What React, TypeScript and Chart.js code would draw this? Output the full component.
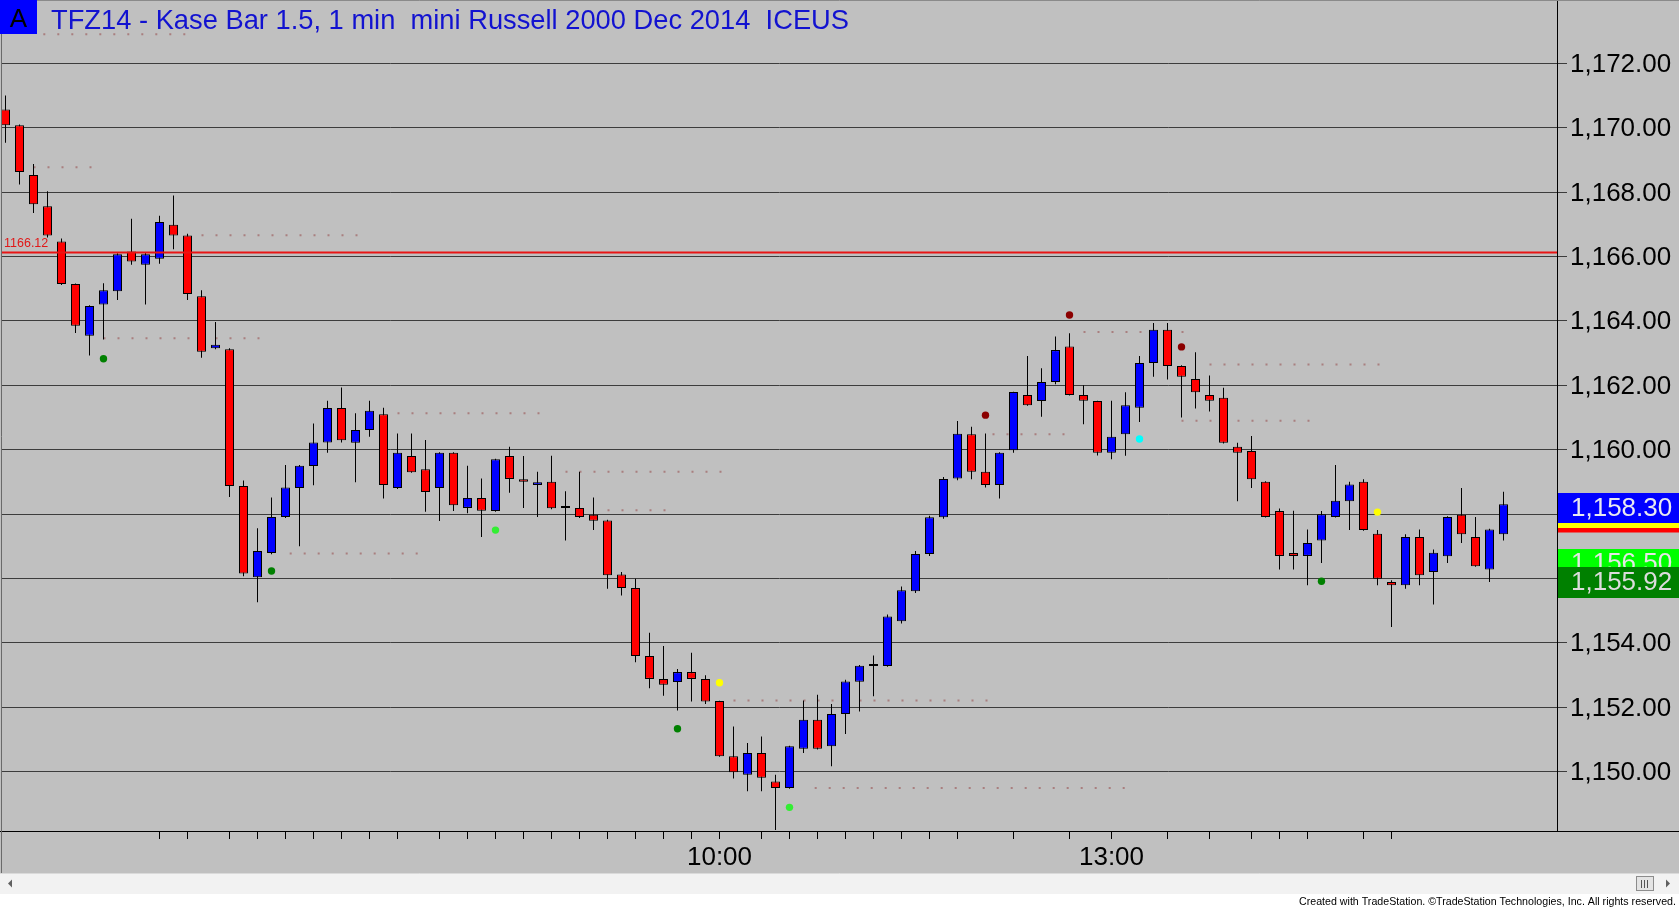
import React, { useEffect, useRef } from 'react';
import { Chart, registerables } from 'chart.js';

Chart.register(...registerables);

// ---- Data ----
const opens = [
  1170.56, 1170.07, 1168.53, 1167.56, 1166.46, 1165.14, 1163.54, 1164.51, 1164.92, 1166.15,
  1165.74, 1165.93, 1166.98, 1166.65, 1164.76, 1163.15, 1163.12, 1158.87, 1156.04, 1156.79,
  1157.91, 1158.81, 1159.49, 1160.22, 1161.29, 1160.21, 1160.61, 1161.10, 1158.81, 1159.80,
  1159.39, 1158.81, 1159.90, 1158.19, 1158.50, 1158.09, 1159.80, 1159.08, 1158.90, 1159.00,
  1158.19, 1158.19, 1157.98, 1157.80, 1156.12, 1155.70, 1153.59, 1152.88, 1152.78, 1153.09,
  1152.88, 1152.19, 1150.48, 1149.90, 1150.58, 1149.69, 1149.49, 1150.71, 1151.61, 1150.79,
  1151.79, 1152.79, 1153.28, 1153.28, 1154.67, 1155.60, 1156.76, 1157.90, 1159.10, 1160.48,
  1159.31, 1158.90, 1159.98, 1161.70, 1161.51, 1162.10, 1163.20, 1161.70, 1161.51, 1159.90,
  1160.48, 1161.30, 1162.69, 1163.72, 1162.60, 1162.19, 1161.70, 1161.61, 1160.09, 1159.96,
  1159.00, 1158.09, 1156.79, 1156.70, 1157.18, 1157.91, 1158.40, 1159.00, 1157.39, 1155.89,
  1155.79, 1157.29, 1156.20, 1156.69, 1157.98, 1157.29, 1156.28, 1157.37,
];
const highs = [
  1171.00, 1170.10, 1168.87, 1168.02, 1166.56, 1165.16, 1164.48, 1165.17, 1166.10, 1167.17,
  1166.12, 1167.26, 1167.89, 1166.70, 1164.95, 1163.96, 1163.15, 1159.04, 1157.56, 1158.51,
  1159.52, 1159.52, 1160.81, 1161.52, 1161.93, 1161.13, 1161.52, 1161.30, 1160.50, 1160.50,
  1160.30, 1159.92, 1159.92, 1159.50, 1159.10, 1159.72, 1160.09, 1159.80, 1159.31, 1159.81,
  1158.71, 1159.31, 1158.51, 1157.82, 1156.20, 1155.99, 1154.31, 1153.90, 1153.19, 1153.69,
  1152.99, 1152.20, 1151.40, 1150.89, 1151.09, 1149.90, 1150.80, 1152.21, 1152.39, 1152.10,
  1152.85, 1153.31, 1153.61, 1154.88, 1155.75, 1156.85, 1157.95, 1159.15, 1160.89, 1160.71,
  1160.50, 1159.92, 1161.80, 1162.91, 1162.53, 1163.51, 1163.61, 1162.00, 1161.52, 1161.52,
  1161.78, 1162.91, 1163.93, 1163.93, 1162.62, 1163.02, 1162.30, 1161.92, 1160.21, 1160.42,
  1159.02, 1158.17, 1158.10, 1157.52, 1158.09, 1159.52, 1159.00, 1159.08, 1157.50, 1155.94,
  1157.37, 1157.52, 1156.90, 1157.93, 1158.81, 1157.91, 1157.54, 1158.69,
];
const lows = [
  1169.53, 1168.23, 1167.35, 1166.59, 1165.11, 1163.62, 1162.92, 1163.42, 1164.65, 1165.74,
  1164.51, 1165.77, 1166.22, 1164.65, 1162.85, 1163.12, 1158.53, 1156.07, 1155.26, 1156.75,
  1157.88, 1157.00, 1158.89, 1159.90, 1160.22, 1158.99, 1160.40, 1158.48, 1158.78, 1159.28,
  1158.07, 1157.78, 1158.09, 1158.02, 1157.29, 1158.07, 1158.66, 1158.19, 1157.91, 1158.15,
  1157.18, 1157.88, 1157.50, 1155.68, 1155.47, 1153.40, 1152.59, 1152.36, 1151.90, 1152.18,
  1152.10, 1150.46, 1149.79, 1149.39, 1149.39, 1148.19, 1149.47, 1150.58, 1150.69, 1150.17,
  1151.17, 1151.87, 1152.34, 1153.26, 1154.60, 1155.55, 1156.70, 1157.85, 1159.05, 1159.08,
  1158.82, 1158.48, 1159.90, 1161.36, 1161.02, 1162.03, 1161.68, 1160.79, 1159.82, 1159.70,
  1159.81, 1160.86, 1162.26, 1162.18, 1161.00, 1161.28, 1161.18, 1160.19, 1158.40, 1158.81,
  1157.89, 1156.28, 1156.28, 1155.79, 1156.48, 1157.89, 1157.50, 1157.48, 1155.79, 1154.49,
  1155.68, 1155.79, 1155.19, 1156.48, 1157.10, 1156.36, 1155.89, 1157.18,
];
const closes = [
  1170.07, 1168.62, 1167.62, 1166.65, 1165.14, 1163.85, 1164.46, 1164.95, 1166.07, 1165.84,
  1166.07, 1167.07, 1166.65, 1164.83, 1163.04, 1163.26, 1158.87, 1156.15, 1156.85, 1157.91,
  1158.82, 1159.50, 1160.22, 1161.29, 1160.29, 1160.61, 1161.21, 1158.90, 1159.90, 1159.30,
  1158.68, 1159.90, 1158.27, 1158.50, 1158.10, 1159.70, 1159.09, 1159.00, 1158.99, 1158.18,
  1158.19, 1157.91, 1157.79, 1156.10, 1155.70, 1153.59, 1152.88, 1152.70, 1153.09, 1152.88,
  1152.18, 1150.48, 1149.98, 1150.58, 1149.81, 1149.49, 1150.79, 1151.61, 1150.71, 1151.79,
  1152.80, 1153.29, 1153.28, 1154.82, 1155.63, 1156.76, 1157.90, 1159.09, 1160.49, 1159.31,
  1158.90, 1159.90, 1161.79, 1161.38, 1162.10, 1163.09, 1161.70, 1161.52, 1159.90, 1160.40,
  1161.38, 1162.69, 1163.72, 1162.60, 1162.26, 1161.78, 1161.52, 1160.21, 1159.90, 1159.08,
  1157.91, 1156.70, 1156.70, 1157.10, 1157.99, 1158.41, 1158.92, 1157.50, 1155.99, 1155.79,
  1157.29, 1156.10, 1156.80, 1157.91, 1157.37, 1156.38, 1157.52, 1158.30,
];

const yTickValues = [1150, 1152, 1154, 1156, 1158, 1160, 1162, 1164, 1166, 1168, 1170, 1172];
const xTickIdx = [11, 13, 16, 18, 20, 22, 24, 26, 28, 31, 33, 35, 37, 39, 41, 43, 45, 47, 49, 51,
  54, 56, 58, 60, 62, 64, 66, 68, 72, 76, 79, 83, 86, 89, 91, 93, 97, 99];
const timeLabelIdx = [51, 79];
const timeLabelText = ['10:00', '13:00'];

const signalIdx = [7, 19, 35, 48, 51, 56, 70, 76, 81, 84, 94, 98];
const signalPrice = [1162.82, 1156.23, 1157.50, 1151.33, 1152.76, 1148.89, 1161.07, 1164.18, 1160.33, 1163.19, 1155.91, 1158.06];
const signalColor = ['#008000', '#008000', '#33ee33', '#008000', '#ffff00', '#33ee33', '#8b0000', '#8b0000', '#00ffff', '#8b0000', '#008000', '#ffff00'];

const dotStart = [2.7, 2, 14, 7, 28, 40, 20.3, 43, 52, 57.8, 70.5, 77, 86, 84];
const dotEnd = [13.4, 6.2, 25.3, 18.2, 38.3, 51.4, 30.3, 47.2, 70.3, 80.2, 76.2, 84.2, 98.3, 93.5];
const dotPrice = [1172.90, 1168.77, 1166.66, 1163.46, 1161.13, 1159.31, 1156.77, 1158.12, 1152.21, 1149.49, 1160.48, 1163.65, 1162.64, 1160.90];

const stopLevel = 1166.12;
const tagValues = [1156.50, 1155.92, 1158.30];
const tagFill = ['#00ff00', '#008000', '#0000ff'];
const tagText = ['#e6e6e6', '#dcdcdc', '#e8e8f0'];

const titleText = 'TFZ14 - Kase Bar 1.5, 1 min  mini Russell 2000 Dec 2014  ICEUS';
const footerText = 'Created with TradeStation. \u00A9TradeStation Technologies, Inc. All rights reserved.';

const X_MIN = -0.25;
const X_MAX = 110.8214;
const Y_MAX = 1173.963;
const Y_MIN = 1148.156;

const FONT = '"Liberation Sans", Arial, sans-serif';

const fmt = (v: number) => v.toLocaleString('en-US', { minimumFractionDigits: 2, maximumFractionDigits: 2 });

const decorPlugin = {
  id: 'decor',
  beforeDraw(chart: any) {
    const { ctx, width, height } = chart;
    ctx.save();
    ctx.fillStyle = '#c0c0c0';
    ctx.fillRect(0, 0, width, height);
    ctx.restore();
  },
  afterDraw(chart: any) {
    const { ctx, width } = chart;
    const area = chart.chartArea;
    const ys = chart.scales.y;
    ctx.save();

    // frame lines
    ctx.lineWidth = 1;
    ctx.strokeStyle = '#000';
    ctx.beginPath();
    ctx.moveTo(0, Math.round(area.bottom) + 0.5);
    ctx.lineTo(width, Math.round(area.bottom) + 0.5);
    ctx.stroke();
    ctx.strokeStyle = '#6a6a6a';
    ctx.beginPath();
    ctx.moveTo(1.5, 0);
    ctx.lineTo(1.5, 873);
    ctx.stroke();
    ctx.strokeStyle = '#8a8a8a';
    ctx.beginPath();
    ctx.moveTo(0, 0.5);
    ctx.lineTo(width, 0.5);
    ctx.stroke();

    // "A" box and title
    ctx.fillStyle = '#0000ff';
    ctx.fillRect(0, 0, 37, 34);
    ctx.fillStyle = '#000';
    ctx.font = `26px ${FONT}`;
    ctx.textAlign = 'center';
    ctx.textBaseline = 'alphabetic';
    ctx.fillText('A', 18.5, 27);
    ctx.fillStyle = '#1212d0';
    ctx.font = `27.3px ${FONT}`;
    ctx.textAlign = 'left';
    ctx.fillText(titleText, 51, 29);

    // stop level label
    const sy = ys.getPixelForValue(stopLevel);
    ctx.fillStyle = '#e01818';
    ctx.font = `12.5px ${FONT}`;
    ctx.fillText(String(stopLevel.toFixed(2)), 4, sy - 6);

    // right axis price tags
    ctx.font = `26px ${FONT}`;
    ctx.textBaseline = 'middle';
    for (let i = 0; i < tagValues.length; i++) {
      const py = ys.getPixelForValue(tagValues[i]);
      const last = i === tagValues.length - 1;
      const top = Math.round(last ? py - 11.5 : py - 13.5);
      const h = last ? 30 : 31;
      if (last) {
        ctx.fillStyle = '#ffff00';
        ctx.fillRect(1558, top + h, width - 1558, 5);
        ctx.fillStyle = '#ff0000';
        ctx.fillRect(1558, top + h + 5, width - 1558, 4.5);
      }
      ctx.fillStyle = tagFill[i];
      ctx.fillRect(1558, top, width - 1558, h);
      ctx.fillStyle = tagText[i];
      ctx.fillText(fmt(tagValues[i]), 1571, last ? py + 4 : py + 1.5);
    }

    // scrollbar
    ctx.fillStyle = '#f2f2f2';
    ctx.fillRect(0, 873, width, 21);
    ctx.strokeStyle = '#dadada';
    ctx.beginPath();
    ctx.moveTo(0, 873.5);
    ctx.lineTo(width, 873.5);
    ctx.stroke();
    ctx.fillStyle = '#606060';
    ctx.beginPath();
    ctx.moveTo(8, 883.5);
    ctx.lineTo(12, 879.5);
    ctx.lineTo(12, 887.5);
    ctx.closePath();
    ctx.fill();
    ctx.beginPath();
    ctx.moveTo(1670, 883.5);
    ctx.lineTo(1666, 879.5);
    ctx.lineTo(1666, 887.5);
    ctx.closePath();
    ctx.fill();
    ctx.fillStyle = '#e4e4e4';
    ctx.fillRect(1636, 876, 18, 15);
    ctx.strokeStyle = '#8c8c8c';
    ctx.strokeRect(1636.5, 876.5, 17, 14);
    ctx.strokeStyle = '#555';
    for (const gx of [1641.5, 1644.5, 1647.5]) {
      ctx.beginPath();
      ctx.moveTo(gx, 880);
      ctx.lineTo(gx, 888);
      ctx.stroke();
    }

    // footer
    ctx.fillStyle = '#ffffff';
    ctx.fillRect(0, 894, width, 15);
    ctx.fillStyle = '#000';
    ctx.font = `11px ${FONT}`;
    const tw = ctx.measureText(footerText).width;
    const sx = 377 / tw;
    ctx.translate(1676, 902);
    ctx.scale(sx, 1);
    ctx.textAlign = 'right';
    ctx.textBaseline = 'middle';
    ctx.fillText(footerText, 0, 0);

    ctx.restore();
  },
};

export default function App() {
  const ref = useRef<HTMLCanvasElement | null>(null);

  useEffect(() => {
    document.body.style.margin = '0';
    const canvas = ref.current;
    if (!canvas) return;

    const bodyColors = opens.map((o, i) => (closes[i] > o ? '#0000ff' : closes[i] < o ? '#ff0000' : '#000000'));

    const datasets: any[] = [
      {
        type: 'line',
        data: [{ x: X_MIN, y: stopLevel }, { x: X_MAX, y: stopLevel }],
        borderColor: '#e81414',
        borderWidth: 2,
        pointRadius: 0,
        fill: false,
        order: 1,
      },
      {
        type: 'scatter',
        data: signalIdx.map((x, i) => ({ x, y: signalPrice[i] })),
        pointBackgroundColor: signalColor,
        pointBorderWidth: 0,
        pointRadius: 3.7,
        order: 2,
      },
      {
        type: 'bar',
        data: opens.map((o, i) => ({ x: i, y: [o, closes[i]] })),
        backgroundColor: bodyColors,
        borderColor: '#000000',
        borderWidth: 1,
        borderSkipped: false,
        barThickness: 9,
        minBarLength: 2,
        grouped: false,
        inflateAmount: 0,
        order: 3,
      },
      {
        type: 'bar',
        data: lows.map((l, i) => ({ x: i, y: [l, highs[i]] })),
        backgroundColor: '#000000',
        borderWidth: 0,
        barThickness: 1,
        grouped: false,
        inflateAmount: 0,
        order: 4,
      },
      ...dotStart.map((s, i) => ({
        type: 'line',
        data: [{ x: s, y: dotPrice[i] }, { x: dotEnd[i], y: dotPrice[i] }],
        borderColor: 'rgba(165,115,115,0.85)',
        borderWidth: 2,
        borderDash: [2, 12],
        pointRadius: 0,
        fill: false,
        order: 5,
      })),
    ];

    const chart = new Chart(canvas, {
      type: 'bar',
      data: { datasets },
      options: {
        animation: false,
        responsive: false,
        devicePixelRatio: 1,
        events: [],
        layout: { autoPadding: false, padding: { left: 2, right: 0, top: 0, bottom: 0 } },
        plugins: {
          legend: { display: false },
          tooltip: { enabled: false },
          title: { display: false },
        },
        scales: {
          x: {
            type: 'linear',
            min: X_MIN,
            max: X_MAX,
            bounds: 'data',
            offset: false,
            grid: { drawOnChartArea: false, drawTicks: true, tickLength: 8, color: '#000', offset: false },
            border: { display: true, color: '#000', width: 1 },
            ticks: {
              autoSkip: false,
              maxRotation: 0,
              minRotation: 0,
              padding: 3,
              color: '#000',
              font: { family: FONT, size: 26 },
              callback: (v: any) => {
                const k = timeLabelIdx.indexOf(Number(v));
                return k >= 0 ? timeLabelText[k] : '';
              },
            },
            afterBuildTicks: (s: any) => {
              s.ticks = xTickIdx.map((v) => ({ value: v }));
            },
            afterFit: (s: any) => {
              s.height = 78;
              s.paddingLeft = 0;
              s.paddingRight = 0;
            },
          },
          y: {
            type: 'linear',
            position: 'right',
            min: Y_MIN,
            max: Y_MAX,
            bounds: 'data',
            beginAtZero: false,
            grid: { drawOnChartArea: true, drawTicks: true, tickLength: 10, color: '#3c3c3c', lineWidth: 1 },
            border: { display: true, color: '#000', width: 1 },
            ticks: {
              padding: 3,
              labelOffset: 1.5,
              color: '#000',
              font: { family: FONT, size: 26 },
              callback: (v: any) => fmt(Number(v)),
            },
            afterBuildTicks: (s: any) => {
              s.ticks = yTickValues.map((v) => ({ value: v }));
            },
            afterFit: (s: any) => {
              s.width = 122;
              s.paddingTop = 0;
              s.paddingBottom = 0;
            },
          },
        },
      } as any,
      plugins: [decorPlugin],
    });

    return () => chart.destroy();
  }, []);

  return (
    <div style={{ position: 'fixed', left: 0, top: 0, width: 1679, height: 909, background: '#c0c0c0' }}>
      <canvas ref={ref} width={1679} height={909} style={{ display: 'block', width: 1679, height: 909 }} />
    </div>
  );
}
